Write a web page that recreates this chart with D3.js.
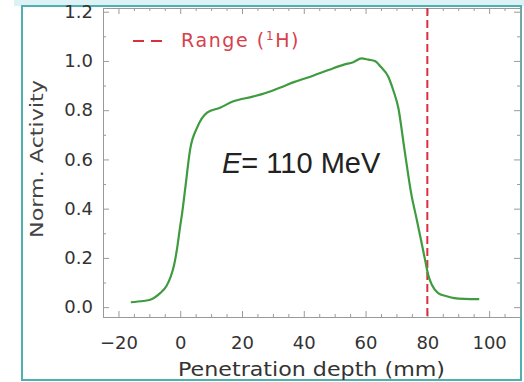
<!DOCTYPE html>
<html>
<head>
<meta charset="utf-8">
<script src="https://cdn.jsdelivr.net/npm/d3@7"></script>
<style>
	body { margin: 0; background: #fff; }
	svg { display: block; }
</style>
</head>
<body>
<script>
// penetration depth (mm) and normalized activity
const depth = [-16, -12, -9.7, -6.5, -4.5, -3.2, -2, -1, 0, 0.6, 1.6, 3.2, 5.5, 8.7, 12.9, 17, 23.5, 26.5, 32, 37, 43, 48, 53, 56, 58.7, 61, 63, 65, 67.4, 69, 70.6, 72.6, 74.8, 76.5, 78, 79.3, 80.3, 81.5, 83.5, 86, 88.7, 92, 96.8]
const activity = [0.02, 0.025, 0.03, 0.057, 0.085, 0.12, 0.17, 0.24, 0.33, 0.38, 0.48, 0.64, 0.73, 0.79, 0.81, 0.835, 0.855, 0.865, 0.89, 0.915, 0.94, 0.963, 0.985, 0.995, 1.01, 1.005, 1.0, 0.975, 0.935, 0.88, 0.81, 0.64, 0.46, 0.36, 0.27, 0.19, 0.13, 0.09, 0.057, 0.045, 0.037, 0.034, 0.033]

const xTicks = [-20, 0, 20, 40, 60, 80, 100]
const yTicks = [0.0, 0.2, 0.4, 0.6, 0.8, 1.0, 1.2]
const rangeDepth = [80]

const width = 524
const height = 382

const FRAME = '#4fb0b0'
const GREEN = '#3f9b3f'
const RED = '#d8303c'
const AXIS = '#9a9a9a'
const FONT = 'DejaVu Sans, sans-serif'

let svg = d3.select('body').append('svg')
	.attr('width', width)
	.attr('height', height)

// light band at the top and the teal frame
svg.append('rect')
	.attr('x', 14).attr('y', 0)
	.attr('width', width - 14).attr('height', 6)
	.attr('fill', '#dcf2f4')

svg.append('rect')
	.attr('x', 22).attr('y', 6)
	.attr('width', 499).attr('height', 374)
	.attr('fill', '#fff')
	.attr('stroke', FRAME)
	.attr('stroke-width', 2)

let x = d3.scaleLinear().domain([-25, 110]).range([103, 520])
let y = d3.scaleLinear().domain([-0.04, 1.215]).range([317, 8])

let plot = svg.append('g')

function styleAxis(g) {
	g.select('.domain').attr('stroke', AXIS).attr('stroke-width', 1)
	g.selectAll('.tick line').attr('stroke', AXIS)
	g.selectAll('text')
		.attr('fill', '#333')
		.style('font-family', FONT)
		.style('font-size', '18px')
}

// minor ticks
let xMinor = d3.range(-25, 111, 5).filter(v => v % 20 !== 0)
let yMinor = d3.range(0, 1.21, 0.1).filter((v, i) => i % 2 === 1)

plot.append('g')
	.attr('transform', `translate(0,${y.range()[0]})`)
	.call(d3.axisBottom(x).tickValues(xMinor).tickSize(-3).tickFormat(''))
	.call(styleAxis)
plot.append('g')
	.attr('transform', `translate(0,${y.range()[1]})`)
	.call(d3.axisTop(x).tickValues(xMinor).tickSize(-3).tickFormat(''))
	.call(styleAxis)
plot.append('g')
	.attr('transform', `translate(${x.range()[0]},0)`)
	.call(d3.axisLeft(y).tickValues(yMinor).tickSize(-3).tickFormat(''))
	.call(styleAxis)
plot.append('g')
	.attr('transform', `translate(${x.range()[1]},0)`)
	.call(d3.axisRight(y).tickValues(yMinor).tickSize(-3).tickFormat(''))
	.call(styleAxis)

// major ticks + labels
plot.append('g')
	.attr('transform', `translate(0,${y.range()[0]})`)
	.call(d3.axisBottom(x).tickValues(xTicks).tickSize(-6).tickPadding(19)
		.tickFormat(d => d < 0 ? '\u2212' + Math.abs(d) : d))
	.call(styleAxis)
plot.append('g')
	.attr('transform', `translate(0,${y.range()[1]})`)
	.call(d3.axisTop(x).tickValues(xTicks).tickSize(-6).tickFormat(''))
	.call(styleAxis)
plot.append('g')
	.attr('transform', `translate(${x.range()[0]},0)`)
	.call(d3.axisLeft(y).tickValues(yTicks).tickSize(-6).tickPadding(10)
		.tickFormat(d3.format('.1f')))
	.call(styleAxis)
plot.append('g')
	.attr('transform', `translate(${x.range()[1]},0)`)
	.call(d3.axisRight(y).tickValues(yTicks).tickSize(-6).tickFormat(''))
	.call(styleAxis)

// axis titles
svg.append('text')
	.attr('x', 178).attr('y', 376)
	.attr('textLength', 267)
	.attr('lengthAdjust', 'spacingAndGlyphs')
	.attr('fill', '#333')
	.style('font-family', FONT)
	.style('font-size', '19px')
	.text('Penetration depth (mm)')

svg.append('text')
	.attr('transform', 'translate(43,238) rotate(-90)')
	.attr('textLength', 158)
	.attr('lengthAdjust', 'spacingAndGlyphs')
	.attr('fill', '#444')
	.style('font-family', FONT)
	.style('font-size', '18px')
	.text('Norm. Activity')

// range marker
plot.selectAll('.range')
	.data(rangeDepth)
	.enter()
		.append('line')
		.attr('class', 'range')
		.attr('x1', d => x(d)).attr('x2', d => x(d))
		.attr('y1', y.range()[1]).attr('y2', y.range()[0])
		.attr('stroke', RED)
		.attr('stroke-width', 2)
		.attr('stroke-dasharray', '8,4')

// activity curve
let line = d3.line()
	.x((d, i) => x(depth[i]))
	.y(d => y(d))
	.curve(d3.curveMonotoneX)

plot.append('path')
	.attr('d', line(activity))
	.attr('fill', 'none')
	.attr('stroke', GREEN)
	.attr('stroke-width', 2.2)

// legend
let legend = svg.append('g')
legend.append('line')
	.attr('x1', 133).attr('x2', 164)
	.attr('y1', 41).attr('y2', 41)
	.attr('stroke', RED)
	.attr('stroke-width', 2)
	.attr('stroke-dasharray', '11,7')
let legendText = legend.append('text')
	.attr('x', 181).attr('y', 47)
	.attr('fill', '#d8404c')
	.style('font-family', FONT)
	.style('font-size', '19px')
	.style('letter-spacing', '1.6px')
legendText.append('tspan').text('Range (')
legendText.append('tspan').attr('dy', -7).style('font-size', '12px').text('1')
legendText.append('tspan').attr('dy', 7).text('H)')

// energy annotation
let energy = svg.append('text')
	.attr('x', 222).attr('y', 173)
	.attr('fill', '#222')
	.style('font-family', 'Liberation Sans, Arial, sans-serif')
	.style('font-size', '29px')
energy.append('tspan').style('font-style', 'italic').text('E')
energy.append('tspan').text('= 110 MeV')
</script>
</body>
</html>
